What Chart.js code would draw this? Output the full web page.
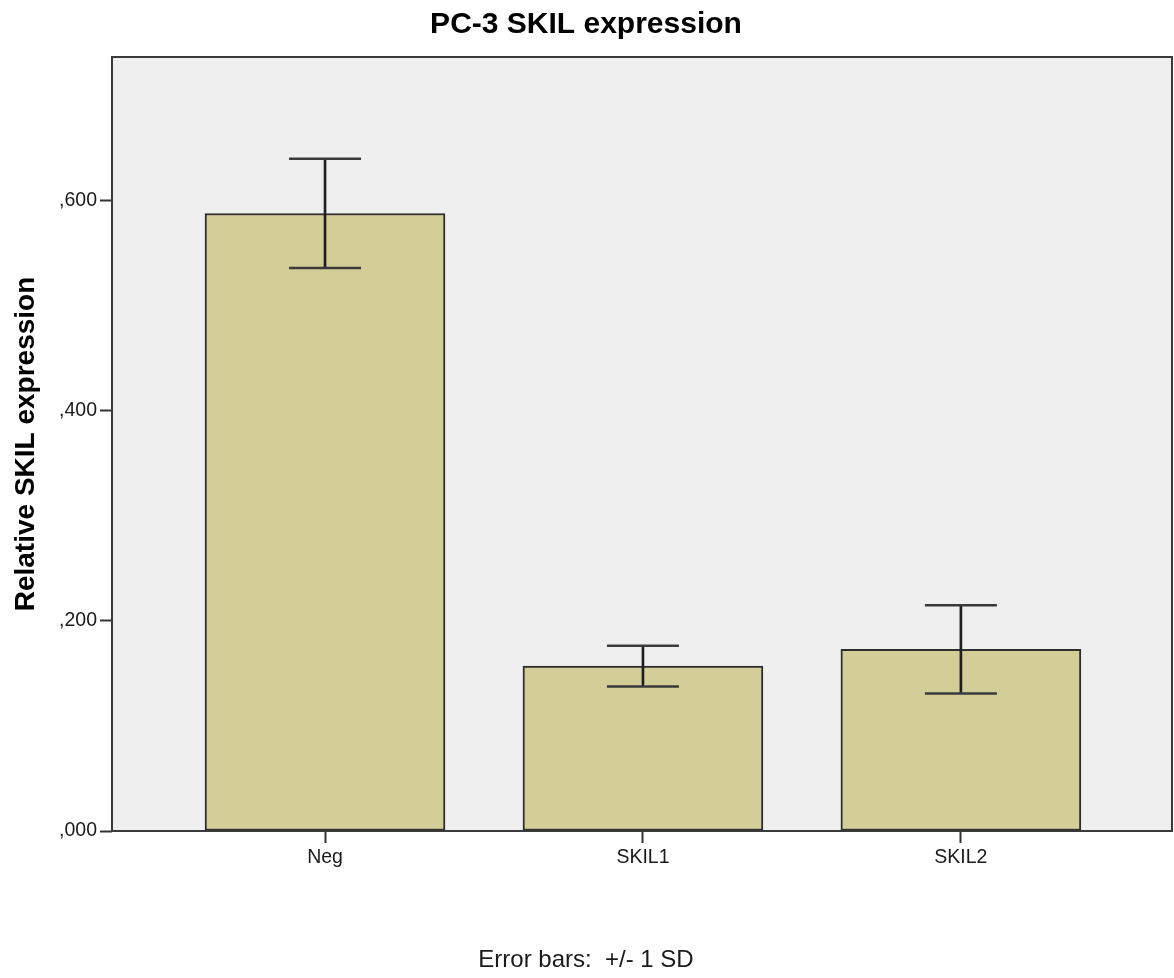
<!DOCTYPE html>
<html>
<head>
<meta charset="utf-8">
<script src="https://cdn.jsdelivr.net/npm/chart.js@4/dist/chart.umd.min.js"></script>
<style>
  html, body { margin: 0; padding: 0; background: #ffffff; overflow: hidden; }
  #wrap { width: 1174px; height: 978px; }
  canvas { display: block; }
</style>
</head>
<body>
<div id="wrap"><canvas id="c" width="1174" height="978"></canvas></div>
<script>
// ---- Data ----
const categories = ['Neg', 'SKIL1', 'SKIL2'];
const meanValues = [0.588, 0.157, 0.173];
const sdValues = [0.052, 0.0195, 0.042];
const yTickValues = [0, 0.2, 0.4, 0.6];
const yTickLabels = [',000', ',200', ',400', ',600'];
const chartTitle = 'PC-3 SKIL expression';
const yAxisTitle = 'Relative SKIL expression';
const footnote = 'Error bars:  +/- 1 SD';

const FONT = "'Liberation Sans', Arial, Helvetica, sans-serif";

const plotFrame = {
  id: 'plotFrame',
  beforeDatasetsDraw(chart) {
    const a = chart.chartArea, ctx = chart.ctx;
    ctx.save();
    ctx.fillStyle = '#efefef';
    ctx.fillRect(a.left, a.top, a.right - a.left, a.bottom - a.top);
    ctx.restore();
  },
  afterDatasetsDraw(chart) {
    const a = chart.chartArea, ctx = chart.ctx;
    ctx.save();
    ctx.strokeStyle = '#3a3a3a';
    ctx.lineWidth = 2;
    ctx.strokeRect(a.left, a.top, a.right - a.left, a.bottom - a.top);
    ctx.restore();
  }
};

const barData = meanValues.map((m, i) => ({ x: i, y: m }));
const errLineData = meanValues.map((m, i) => ({ x: i, y: [m - sdValues[i], m + sdValues[i]] }));
const capData = [];
meanValues.forEach((m, i) => {
  capData.push({ x: i, y: m + sdValues[i] });
  capData.push({ x: i, y: m - sdValues[i] });
});

new Chart(document.getElementById('c'), {
  type: 'bar',
  data: {
    datasets: [
      {
        type: 'bar',
        data: barData,
        backgroundColor: '#d3ce98',
        borderColor: '#2e2e2e',
        borderWidth: 2,
        borderSkipped: false,
        barThickness: 240,
        grouped: false,
        order: 3
      },
      {
        type: 'bar',
        data: errLineData,
        backgroundColor: '#1e1e1e',
        borderWidth: 0,
        barThickness: 2,
        grouped: false,
        order: 2
      },
      {
        type: 'scatter',
        data: capData,
        pointStyle: 'line',
        pointRadius: 36,
        pointHoverRadius: 36,
        borderColor: '#3a3a3a',
        borderWidth: 2.5,
        showLine: false,
        clip: false,
        order: 1
      }
    ]
  },
  options: {
    responsive: false,
    animation: false,
    events: [],
    layout: { autoPadding: false, padding: { left: 0, right: 2, top: 0, bottom: 0 } },
    plugins: {
      legend: { display: false },
      tooltip: { enabled: false },
      title: {
        display: true,
        text: chartTitle,
        color: '#000000',
        font: { family: FONT, size: 30, weight: 'bold' },
        padding: { top: 7, bottom: 14 }
      },
      subtitle: {
        display: true,
        position: 'bottom',
        text: footnote,
        color: '#1a1a1a',
        font: { family: FONT, size: 24, weight: 'normal' },
        padding: { top: 0, bottom: 3 }
      }
    },
    scales: {
      x: {
        type: 'linear',
        min: -0.670,
        max: 2.664,
        offset: false,
        border: { display: false },
        grid: {
          offset: false,
          drawOnChartArea: false,
          drawTicks: true,
          tickLength: 12,
          tickColor: '#333333',
          tickWidth: 2
        },
        ticks: {
          color: '#1a1a1a',
          padding: 3,
          autoSkip: false,
          maxRotation: 0,
          font: { family: FONT, size: 19.5 },
          callback: (v) => categories[v] !== undefined ? categories[v] : ''
        },
        afterBuildTicks: (scale) => { scale.ticks = categories.map((c, i) => ({ value: i })); },
        afterFit: (scale) => {
          scale.height = 978 - 831 - 31.8;
          scale.paddingLeft = 0;
          scale.paddingRight = 0;
        }
      },
      y: {
        type: 'linear',
        min: 0,
        max: 0.737,
        border: { display: false },
        grid: {
          drawOnChartArea: false,
          drawTicks: true,
          tickLength: 12,
          tickColor: '#333333',
          tickWidth: 2
        },
        ticks: {
          color: '#1a1a1a',
          padding: 3,
          includeBounds: false,
          font: { family: FONT, size: 19.5 },
          callback: (v) => {
            const k = yTickValues.findIndex(t => Math.abs(t - v) < 1e-9);
            return k >= 0 ? yTickLabels[k] : '';
          }
        },
        afterBuildTicks: (scale) => { scale.ticks = yTickValues.map(v => ({ value: v })); },
        afterFit: (scale) => {
          scale.width = 112;
          scale.paddingTop = 0;
          scale.paddingBottom = 0;
        },
        title: {
          display: true,
          text: yAxisTitle,
          color: '#000000',
          font: { family: FONT, size: 28, weight: 'bold' },
          padding: { top: 9, bottom: 0 }
        }
      }
    }
  },
  plugins: [plotFrame]
});
</script>
</body>
</html>
